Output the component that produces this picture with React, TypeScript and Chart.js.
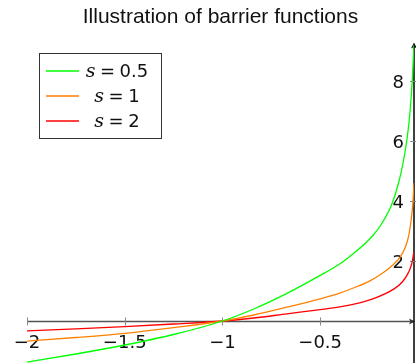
import React, { useEffect, useRef } from "react";
import { Chart, registerables } from "chart.js";

Chart.register(...registerables);

const titleText = "Illustration of barrier functions";

const greenX = [-2, -1.75, -1.5, -1.25, -1, -0.84, -0.67, -0.5, -0.4, -0.35, -0.23, -0.18, -0.133, -0.099, -0.075, -0.055, -0.04, -0.029, -0.02];
const greenY = [-1.37, -1.1, -0.8, -0.45, 0, 0.4, 0.92, 1.52, 1.9, 2.14, 2.85, 3.3, 3.9, 4.6, 5.3, 6.1, 7.0, 8.0, 9.2];

const orangeX = [-2, -1.75, -1.5, -1.25, -1, -0.84, -0.67, -0.5, -0.4, -0.35, -0.25, -0.18, -0.13, -0.09, -0.065, -0.048, -0.035, -0.026, -0.02];
const orangeY = [-0.67, -0.55, -0.41, -0.22, 0, 0.2, 0.46, 0.74, 0.93, 1.05, 1.32, 1.6, 1.86, 2.14, 2.45, 2.81, 3.35, 3.9, 4.6];

const redX = [-2, -1.75, -1.5, -1.25, -1, -0.84, -0.67, -0.5, -0.4, -0.35, -0.23, -0.12, -0.08, -0.048, -0.032, -0.02];
const redY = [-0.33, -0.26, -0.19, -0.1, 0, 0.1, 0.24, 0.38, 0.47, 0.53, 0.74, 1.08, 1.3, 1.62, 1.9, 2.31];

const seriesNames = ["0.5", "1", "2"];
const seriesColors = ["#00ff00", "#ff8000", "#ff0000"];

const xTicks = [-2, -1.5, -1, -0.5];
const xTickLabels = ["\u22122", "\u22121.5", "\u22121", "\u22120.5"];
const yTicks = [2, 4, 6, 8];
const yTickLabels = ["2", "4", "6", "8"];

const X_MIN = -2;
const X_MAX = -0.02;
const Y_MIN = -1.4;
const Y_MAX = 9.25;

const NUM_FONT = "18px 'DejaVu Sans'";

function toPoints(xs: number[], ys: number[]) {
  return xs.map((x, i) => ({ x, y: ys[i] }));
}

const axesPlugin = {
  id: "middleAxes",
  beforeDatasetsDraw(chart: any) {
    const ctx = chart.ctx as CanvasRenderingContext2D;
    const xs = chart.scales.x;
    const ys = chart.scales.y;
    const area = chart.chartArea;
    const y0 = Math.round(ys.getPixelForValue(0)) + 0.5;
    const yAxisX = area.right;
    ctx.save();
    ctx.strokeStyle = "#555";
    ctx.lineWidth = 1.6;
    ctx.beginPath();
    ctx.moveTo(xs.getPixelForValue(X_MIN), y0);
    ctx.lineTo(yAxisX, y0);
    ctx.stroke();
    ctx.fillStyle = "#333";
    ctx.beginPath();
    ctx.moveTo(yAxisX + 1, y0);
    ctx.lineTo(yAxisX - 5, y0 - 3);
    ctx.lineTo(yAxisX - 3.5, y0);
    ctx.lineTo(yAxisX - 5, y0 + 3);
    ctx.closePath();
    ctx.fill();
    ctx.strokeStyle = "#888";
    ctx.lineWidth = 1;
    xTicks.forEach((t) => {
      const px = Math.round(xs.getPixelForValue(t)) + 0.5;
      ctx.beginPath();
      ctx.moveTo(px, y0 - 4);
      ctx.lineTo(px, y0 + 4);
      ctx.stroke();
    });
    ctx.fillStyle = "#111";
    ctx.font = NUM_FONT;
    ctx.textAlign = "center";
    ctx.textBaseline = "alphabetic";
    xTicks.forEach((t, i) => {
      const px = xs.getPixelForValue(t);
      ctx.fillText(xTickLabels[i], px, y0 + 26);
    });
    ctx.strokeStyle = "#111";
    ctx.lineWidth = 1.6;
    ctx.beginPath();
    ctx.moveTo(yAxisX, area.bottom);
    ctx.lineTo(yAxisX, area.top + 1);
    ctx.stroke();
    ctx.fillStyle = "#111";
    ctx.beginPath();
    ctx.moveTo(yAxisX, area.top - 1);
    ctx.lineTo(yAxisX - 3, area.top + 5);
    ctx.lineTo(yAxisX, area.top + 3.5);
    ctx.lineTo(yAxisX + 3, area.top + 5);
    ctx.closePath();
    ctx.fill();
    ctx.strokeStyle = "#888";
    ctx.lineWidth = 1;
    yTicks.forEach((t) => {
      const py = Math.round(ys.getPixelForValue(t)) + 0.5;
      ctx.beginPath();
      ctx.moveTo(yAxisX - 4, py);
      ctx.lineTo(yAxisX + 3, py);
      ctx.stroke();
    });
    ctx.fillStyle = "#111";
    ctx.font = NUM_FONT;
    ctx.textAlign = "right";
    yTicks.forEach((t, i) => {
      const py = ys.getPixelForValue(t);
      ctx.fillText(yTickLabels[i], yAxisX - 10, py + 6.5);
    });
    ctx.restore();
  },
  afterDraw(chart: any) {
    const ctx = chart.ctx as CanvasRenderingContext2D;
    ctx.save();
    ctx.fillStyle = "#fff";
    ctx.fillRect(39.5, 53.5, 122, 85);
    ctx.strokeStyle = "#333";
    ctx.lineWidth = 1;
    ctx.strokeRect(39.5, 53.5, 122, 85);
    seriesNames.forEach((name, i) => {
      const ly = 71 + i * 25;
      ctx.strokeStyle = seriesColors[i];
      ctx.lineWidth = 1.5;
      ctx.beginPath();
      ctx.moveTo(46, ly);
      ctx.lineTo(79, ly);
      ctx.stroke();
      const base = 76.5 + i * 25;
      ctx.fillStyle = "#111";
      ctx.textAlign = "left";
      ctx.textBaseline = "alphabetic";
      const sFont = "italic 19px 'DejaVu Serif'";
      ctx.font = sFont;
      const sW = ctx.measureText("s").width;
      ctx.font = NUM_FONT;
      const eqW = ctx.measureText("=").width;
      const vW = ctx.measureText(name).width;
      const gap = 4.5;
      const total = sW + gap + eqW + gap + vW;
      let x = 117 - total / 2;
      ctx.font = sFont;
      ctx.fillText("s", x, base);
      x += sW + gap;
      ctx.font = NUM_FONT;
      ctx.fillText("=", x, base);
      x += eqW + gap;
      ctx.fillText(name, x, base);
    });
    ctx.restore();
  },
};

export default function App() {
  const ref = useRef<HTMLCanvasElement | null>(null);
  useEffect(() => {
    if (!ref.current) return;
    const mk = (xs: number[], ys: number[], i: number) => ({
      label: "s = " + seriesNames[i],
      data: toPoints(xs, ys),
      borderColor: seriesColors[i],
      backgroundColor: seriesColors[i],
      borderWidth: 1.3,
      pointRadius: 0,
      fill: false,
      cubicInterpolationMode: "monotone" as const,
    });
    const chart = new Chart(ref.current, {
      type: "line",
      data: {
        datasets: [mk(greenX, greenY, 0), mk(orangeX, orangeY, 1), mk(redX, redY, 2)],
      },
      options: {
        responsive: false,
        maintainAspectRatio: false,
        animation: false,
        layout: { padding: { left: 27, right: 2, top: 0, bottom: 0 } },
        scales: {
          x: { type: "linear", min: X_MIN, max: X_MAX, display: false },
          y: { type: "linear", min: Y_MIN, max: Y_MAX, display: false },
        },
        plugins: {
          legend: { display: false },
          tooltip: { enabled: false },
          title: {
            display: true,
            text: titleText,
            color: "#111",
            font: { family: "'Liberation Sans'", size: 21, weight: "normal", lineHeight: 1.2 },
            padding: { top: 4.4, bottom: 13.9 },
          },
        },
      },
      plugins: [axesPlugin],
    });
    return () => chart.destroy();
  }, []);
  return (
    <div style={{ position: "absolute", left: 0, top: 0, width: 416, height: 363, background: "#fff" }}>
      <canvas ref={ref} width={416} height={363} style={{ display: "block" }} />
    </div>
  );
}
